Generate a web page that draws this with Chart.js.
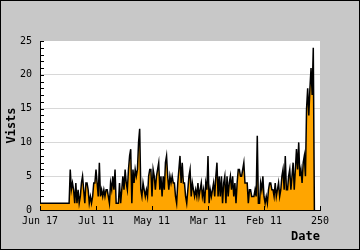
<!DOCTYPE html>
<html>
<head>
<meta charset="utf-8">
<script src="https://cdn.jsdelivr.net/npm/chart.js@4/dist/chart.umd.min.js"></script>
<style>
  html, body { margin: 0; padding: 0; background: #c8c8c8; }
  #wrap { width: 360px; height: 250px; }
</style>
</head>
<body>
<div id="wrap"><canvas id="canvas" width="360" height="250"></canvas></div>
<script>
// visits per day
const visits = [
    1, 1, 1, 1, 1, 1, 1, 1, 1, 1, 1, 1, 1, 1, 1, 1, 1, 1, 1, 1, 1, 1, 1, 1, 1, 1, 1,
    6, 3, 4, 3, 1, 4, 1, 3, 1, 2,
    4, 5, 3, 1, 4, 4, 3, 1, 2, 1,
    2, 4, 4, 6, 4, 2, 7, 2, 3, 2,
    3, 2, 3, 3, 2, 1, 4, 3, 5, 3,
    6, 1, 1, 1, 4, 1, 3, 5, 3, 6,
    4, 3, 6, 8, 9, 1, 6, 4, 6, 5,
    6, 10, 12, 3, 2, 4, 3, 2, 3, 2,
    5, 6, 6, 2, 6, 5, 3, 5, 6, 7,
    3, 5, 2, 5, 3, 7, 8, 5, 3, 5,
    4, 5, 4, 4, 2, 1, 4, 6, 8, 4,
    7, 4, 4, 2, 1, 3, 5, 6, 2, 4,
    3, 2, 3, 2, 4, 2, 3, 4, 2, 3,
    1, 4, 3, 8, 1, 3, 2, 3, 4, 2,
    5, 7, 2, 5, 2, 5, 1, 4, 5, 1,
    5, 2, 4, 5, 3, 5, 2, 4, 1, 4,
    6, 6, 5, 5, 6, 7, 4, 4, 4, 1,
    3, 3, 2, 2, 2, 3, 2, 11, 1, 1,
    4, 3, 5, 2, 1, 2, 1, 3, 4, 4,
    3, 3, 2, 4, 2, 3, 4, 2, 3, 5,
    6, 3, 8, 3, 3, 5, 6, 3, 5, 7,
    3, 6, 9, 6, 10, 5, 6, 4, 7, 8,
    5, 15, 18, 14, 18, 21, 17, 24, 0
];
const tickLabels = ['Jun 17', 'Jul 11', 'May 11', 'Mar 11', 'Feb 11', '250'];
const yTicks = [0, 5, 10, 15, 20, 25];

const points = visits.map((v, i) => ({ x: i, y: v }));
const mono = 'DejaVu Sans Mono';

// grey frame, white plot area, and the little inward ticks
const frame = {
    id: 'frame',
    beforeDraw(chart) {
        const c = chart.ctx, a = chart.chartArea;
        c.save();
        c.fillStyle = '#c8c8c8';
        c.fillRect(0, 0, chart.width, chart.height);
        c.fillStyle = '#ffffff';
        c.fillRect(a.left, a.top, a.right - a.left, a.bottom - a.top);
        c.strokeStyle = '#000';
        c.lineWidth = 1;
        c.strokeRect(0.5, 0.5, chart.width - 1, chart.height - 1);
        c.restore();
    },
    afterDraw(chart) {
        const c = chart.ctx, a = chart.chartArea;
        const ys = chart.scales.y, xs = chart.scales.x;
        c.save();
        c.strokeStyle = '#000';
        c.lineWidth = 1;
        c.beginPath();
        for (let v = 0; v <= 25; v++) {
            const py = Math.round(ys.getPixelForValue(v)) + 0.5;
            c.moveTo(a.left, py);
            c.lineTo(a.left + 4, py);
        }
        for (let v = 0; v <= 250; v += 50) {
            const px = Math.round(xs.getPixelForValue(v)) + 0.5;
            c.moveTo(px, a.bottom);
            c.lineTo(px, a.bottom - 4);
        }
        c.stroke();
        c.restore();
    }
};

var ctx = document.getElementById('canvas').getContext('2d');
var myChart = new Chart(ctx, {
    type: 'line',
    data: {
        datasets: [{
            label: 'Visits',
            data: points,
            borderColor: '#000000',
            borderWidth: 1.5,
            backgroundColor: '#ffa500',
            fill: 'origin',
            pointRadius: 0,
            tension: 0
        }]
    },
    options: {
        responsive: false,
        animation: false,
        layout: { padding: { top: 41, right: 40, left: 5, bottom: 6 } },
        plugins: { legend: { display: false }, tooltip: { enabled: false } },
        scales: {
            x: {
                type: 'linear',
                min: 0,
                max: 250,
                afterFit: s => { s.height = 34; },
                afterBuildTicks: s => { s.ticks = tickLabels.map((t, i) => ({ value: i * 50 })); },
                ticks: {
                    maxRotation: 0,
                    padding: 5,
                    color: '#000',
                    font: { family: mono, size: 10 },
                    callback: v => tickLabels[v / 50]
                },
                grid: { display: false, drawTicks: false },
                border: { display: true, color: '#000', width: 1 },
                title: {
                    display: true,
                    text: 'Date',
                    align: 'end',
                    color: '#000',
                    font: { family: mono, size: 12, weight: 'bold' },
                    padding: { top: 3, bottom: 0 }
                }
            },
            y: {
                min: 0,
                max: 25,
                afterFit: s => { s.width = 35; },
                afterBuildTicks: s => { s.ticks = yTicks.map(v => ({ value: v })); },
                ticks: {
                    padding: 8,
                    color: '#000',
                    font: { family: mono, size: 10 }
                },
                grid: {
                    drawTicks: false,
                    color: c => (c.tick && c.tick.value > 0 && c.tick.value < 25) ? '#d8d8d8' : 'rgba(0,0,0,0)'
                },
                border: { display: true, color: '#000', width: 1 },
                title: {
                    display: true,
                    text: 'Vists',
                    color: '#000',
                    font: { family: mono, size: 12, weight: 'bold' },
                    padding: { top: 0, bottom: 2 }
                }
            }
        }
    },
    plugins: [frame]
});
</script>
</body>
</html>
